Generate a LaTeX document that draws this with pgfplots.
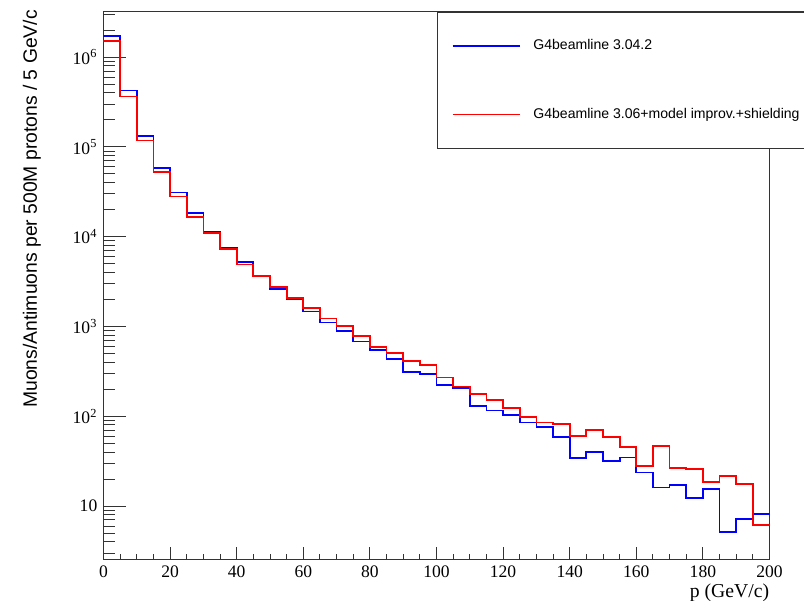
\documentclass[border=0pt]{standalone}
\usepackage{fontspec}
\setmainfont{Liberation Serif}
\newfontfamily\helv{Liberation Sans}
\usepackage{pgfplots}
\pgfplotsset{compat=1.18}
\definecolor{rootblue}{RGB}{0,0,255}
\definecolor{rootred}{RGB}{255,0,0}
\definecolor{framegray}{HTML}{333333}

\begin{document}
\begin{tikzpicture}
\path[use as bounding box] (-2.07,-0.81) rectangle (14.01,11.19);
\clip (-2.07,-0.81) rectangle (14.01,11.19);
\begin{axis}[
  at={(0,0)}, anchor=south west,
  scale only axis, width=13.32cm, height=10.96cm,
  xmin=0, xmax=200,
  ymode=log, ymin=2.54, ymax=3.22e6,
  axis line style={framegray, line width=0.7pt},
  tick align=inside, xtick pos=bottom, ytick pos=left,
  tick style={framegray, line width=0.55pt},
  major tick length=0.45cm, minor tick length=0.22cm,
  xtick style={/pgfplots/major tick length=0.26cm, /pgfplots/minor tick length=0.12cm},
  xtick={0,20,...,200}, minor x tick num=3,
  ytick={10,100,1000,10000,100000,1000000},
  yticklabels={10,10\textsuperscript{2},10\textsuperscript{3},10\textsuperscript{4},10\textsuperscript{5},10\textsuperscript{6}},
  minor ytick={3,4,5,6,7,8,9,20,30,40,50,60,70,80,90,200,300,400,500,600,700,800,900,
    2000,3000,4000,5000,6000,7000,8000,9000,20000,30000,40000,50000,60000,70000,80000,90000,
    200000,300000,400000,500000,600000,700000,800000,900000,2000000,3000000},
  /pgf/number format/assume math mode=true,
  tick label style={font=\fontsize{10}{12}\selectfont},
  xlabel={p (GeV/c)},
  xlabel style={at={(axis description cs:1,0)}, anchor=north east, yshift=-0.48cm, inner sep=0pt, font=\fontsize{11.2}{13}\selectfont},
  ylabel={Muons/Antimuons per 500M protons / 5 GeV/c},
  ylabel style={at={(axis description cs:-0.1,1.003)}, anchor=base east, inner sep=0pt, font=\helv\fontsize{11}{13}\selectfont},
  legend style={at={(axis description cs:0.5003,1)}, anchor=north west, draw=framegray, line width=0.7pt,
    font=\helv\fontsize{8}{9.6}\selectfont, inner xsep=0.286cm, inner ysep=0.48cm,
    row sep=0.966cm, column sep=0.26cm, nodes={inner sep=0pt, minimum height=0.4cm}},
  legend cell align=left,
  legend image code/.code={\draw[#1] (0cm,0cm) -- (1.34cm,0cm);},
]
\addplot[const plot, rootblue, line width=1pt] coordinates {
  (0,1.73e6) (5,4.25e5) (10,1.33e5) (15,5.85e4) (20,3.11e4) (25,1.82e4) (30,1.12e4) (35,7520)
  (40,5200) (45,3670) (50,2630) (55,2000) (60,1470) (65,1110) (70,896) (75,682)
  (80,546) (85,433) (90,313) (95,295) (100,222) (105,206) (110,131) (115,116)
  (120,103) (125,85.5) (130,76.4) (135,59.2) (140,34) (145,39.9) (150,31.7) (155,34.8)
  (160,23.6) (165,16.1) (170,17.3) (175,12.4) (180,15.5) (185,5.1) (190,7.2) (195,8.1)
  (200,8.1)};
\addlegendentry{G4beamline 3.04.2}
\addplot[const plot, rootred, line width=1pt] coordinates {
  (0,1.5e6) (5,3.65e5) (10,1.18e5) (15,5.28e4) (20,2.81e4) (25,1.67e4) (30,1.09e4) (35,7280)
  (40,4900) (45,3620) (50,2760) (55,2080) (60,1610) (65,1230) (70,1010) (75,781)
  (80,594) (85,509) (90,415) (95,369) (100,271) (105,215) (110,177) (115,151)
  (120,124) (125,98) (130,85.5) (135,81.8) (140,60.3) (145,70.8) (150,59.2) (155,45.4)
  (160,27.7) (165,47) (170,26.5) (175,25.8) (180,18.4) (185,21.6) (190,17.5) (195,6.2)
  (200,6.2)};
\addlegendentry{G4beamline 3.06+model improv.+shielding}
\end{axis}
\end{tikzpicture}
\end{document}
